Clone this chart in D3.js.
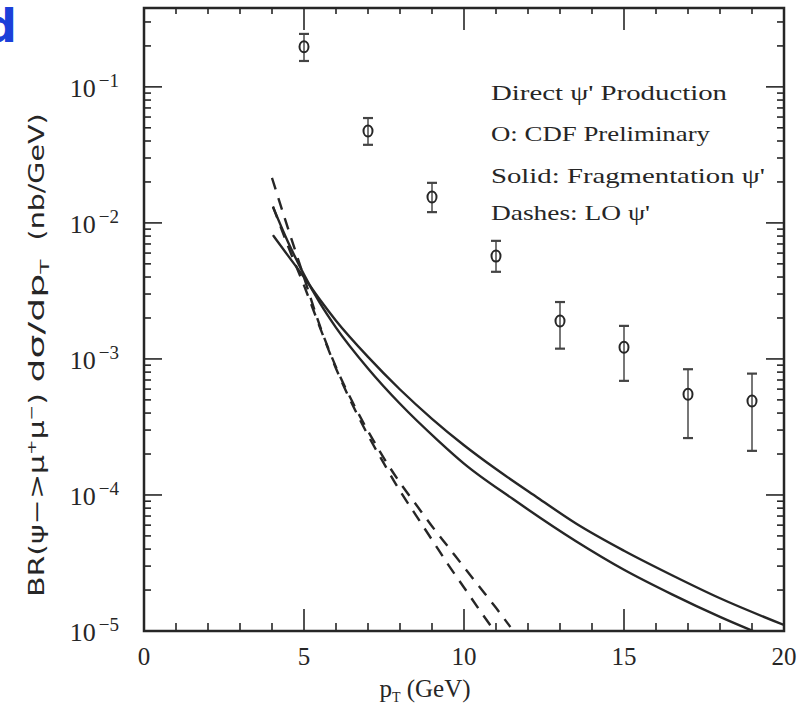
<!DOCTYPE html>
<html>
<head>
<meta charset="utf-8">
<script src="https://cdn.jsdelivr.net/npm/d3@7"></script>
<style>
  body { margin: 0; background: #fff; }
  svg { display: block; }
</style>
</head>
<body>
<div id="chart"></div>
<script>
// CDF points: pT, value, lower and upper end of error bar
var cdfPt = [5, 7, 9, 11, 13, 15, 17, 19];
var cdfVal = [0.197, 0.0474, 0.0155, 0.0057, 0.0019, 0.00122, 0.00055, 0.00049];
var cdfLo = [0.155, 0.0375, 0.0120, 0.00437, 0.00119, 0.00069, 0.000262, 0.000211];
var cdfHi = [0.245, 0.059, 0.0197, 0.00738, 0.00262, 0.00175, 0.00084, 0.00078];

// fragmentation (solid) curves
var frag1Pt = [4.03, 4.5, 5.0, 5.5, 6.0, 7.0, 8.0, 9.0, 10, 11, 12.3, 13.5, 15, 16.5, 18, 20];
var frag1Val = [0.00813, 0.00575, 0.00398, 0.00272, 0.00191, 0.001035, 0.000596, 0.000363, 0.000232,
                0.000155, 9.55e-5, 6.17e-5, 3.89e-5, 2.57e-5, 1.74e-5, 1.107e-5];
var frag2Pt = [4.03, 4.5, 5.0, 5.5, 6.0, 7.0, 8.0, 9.19, 10, 11.53, 13.5, 15, 16.5, 18, 19.5];
var frag2Val = [0.01312, 0.00724, 0.00417, 0.00257, 0.00170, 0.000851, 0.000468, 0.000251, 0.000170,
                9.33e-5, 4.57e-5, 2.82e-5, 1.86e-5, 1.27e-5, 9.0e-6];

// LO (dashed) curves
var lo1Pt = [4.0, 4.5, 5.0, 5.5, 6.0, 6.5, 7.0, 7.5, 8.0, 8.5, 9.0, 9.5, 10.0, 10.5, 11.0, 11.45];
var lo1Val = [0.0214, 0.00912, 0.00398, 0.00174, 0.000871, 0.000490, 0.000295, 0.000186, 0.000123,
              8.51e-5, 5.89e-5, 4.17e-5, 2.95e-5, 2.09e-5, 1.48e-5, 1.07e-5];
var lo2Pt = [4.03, 4.5, 5.0, 5.5, 6.0, 6.5, 7.0, 7.5, 8.0, 8.5, 9.0, 9.5, 10.0, 10.5, 10.95];
var lo2Val = [0.0132, 0.00676, 0.00347, 0.00170, 0.000851, 0.000468, 0.000275, 0.000170, 0.000107,
              7.08e-5, 4.68e-5, 3.09e-5, 2.09e-5, 1.41e-5, 1.0e-5];

var xMajor = [0, 5, 10, 15, 20];
var xMinor = [1, 2, 3, 4, 6, 7, 8, 9, 11, 12, 13, 14, 16, 17, 18, 19];
var yDecades = [1e-5, 1e-4, 1e-3, 1e-2, 1e-1];
var yExp = ["\u22125", "\u22124", "\u22123", "\u22122", "\u22121"];

var legendLines = ["Direct \u03c8' Production", "O: CDF Preliminary", "Solid: Fragmentation \u03c8'", "Dashes: LO \u03c8'"];
var legendWidths = [236, 219, 274, 159];

var W = 808, H = 712;
var plotL = 144, plotR = 784, plotT = 8, plotB = 631;

var svg = d3.select("#chart").append("svg")
    .attr("width", W)
    .attr("height", H);

var x = d3.scaleLinear().domain([0, 20]).range([plotL, plotR]);
var y = d3.scaleLog().domain([1e-5, 0.38]).range([plotB, plotT]);

// minor y ticks: 2..9 within each decade
var yMinor = [];
yDecades.forEach(function(d) {
    for (var k = 2; k <= 9; k++) {
        if (d * k < 0.38) yMinor.push(d * k);
    }
});

svg.append("defs").append("clipPath").attr("id", "plot")
    .append("rect")
    .attr("x", plotL).attr("y", plotT)
    .attr("width", plotR - plotL).attr("height", plotB - plotT);

var ink = "#262626";

// ticks, all pointing into the frame
var ticks = svg.append("g").attr("stroke", ink).attr("stroke-width", 1.6);
var yAll = yDecades.concat(yMinor);
var xAll = xMajor.concat(xMinor);

ticks.selectAll(".yl").data(yAll).enter().append("line")
    .attr("x1", plotL).attr("x2", function(d) { return yDecades.indexOf(d) >= 0 ? plotL + 18 : plotL + 7; })
    .attr("y1", function(d) { return y(d); }).attr("y2", function(d) { return y(d); });
ticks.selectAll(".yr").data(yAll).enter().append("line")
    .attr("x1", plotR).attr("x2", function(d) { return yDecades.indexOf(d) >= 0 ? plotR - 18 : plotR - 7; })
    .attr("y1", function(d) { return y(d); }).attr("y2", function(d) { return y(d); });

ticks.selectAll(".xb").data(xAll).enter().append("line")
    .attr("x1", function(d) { return x(d); }).attr("x2", function(d) { return x(d); })
    .attr("y1", plotB).attr("y2", function(d) { return xMajor.indexOf(d) >= 0 ? plotB - 22 : plotB - 8; });
ticks.selectAll(".xt").data(xAll).enter().append("line")
    .attr("x1", function(d) { return x(d); }).attr("x2", function(d) { return x(d); })
    .attr("y1", plotT).attr("y2", function(d) { return xMajor.indexOf(d) >= 0 ? plotT + 22 : plotT + 6; });

// frame
svg.append("rect")
    .attr("x", plotL).attr("y", plotT)
    .attr("width", plotR - plotL).attr("height", plotB - plotT)
    .attr("fill", "none").attr("stroke", ink).attr("stroke-width", 2.5);

// tick labels
svg.selectAll(".xlab").data(xMajor).enter().append("text")
    .attr("x", function(d) { return x(d); })
    .attr("y", 665)
    .attr("text-anchor", "middle")
    .attr("font-family", "Liberation Serif, serif")
    .attr("font-size", 25)
    .attr("fill", ink)
    .text(function(d) { return d; });

var ylab = svg.selectAll(".ylab").data(yDecades).enter().append("text")
    .attr("x", 119)
    .attr("y", function(d) { return y(d) + 10; })
    .attr("text-anchor", "end")
    .attr("font-family", "Liberation Serif, serif")
    .attr("fill", ink);
ylab.append("tspan").attr("font-size", 26).text("10");
ylab.append("tspan").attr("font-size", 19).attr("dx", 3).attr("dy", -10)
    .text(function(d, i) { return yExp[i]; });

// axis titles
var xt = svg.append("text")
    .attr("x", 425).attr("y", 697)
    .attr("text-anchor", "middle")
    .attr("font-family", "Liberation Serif, serif")
    .attr("font-size", 25)
    .attr("fill", ink);
xt.append("tspan").text("p");
xt.append("tspan").attr("font-size", 14).attr("dy", 5).text("T");
xt.append("tspan").attr("dy", -5).text(" (GeV)");

function yTitle(cy, len, build) {
    var t = svg.append("text")
        .attr("transform", "translate(44," + cy + ") rotate(-90)")
        .attr("text-anchor", "middle")
        .attr("font-family", "DejaVu Sans, sans-serif")
        .attr("font-size", 21)
        .attr("fill", ink)
        .attr("textLength", len)
        .attr("lengthAdjust", "spacingAndGlyphs");
    build(t);
}
yTitle(495, 204, function(t) {
    t.append("tspan").text("BR(\u03c8\u2212>\u03bc");
    t.append("tspan").attr("font-size", 13).attr("dy", -8).text("+");
    t.append("tspan").attr("dy", 8).text("\u03bc");
    t.append("tspan").attr("font-size", 13).attr("dy", -8).text("\u2212");
    t.append("tspan").attr("dy", 8).text(")");
});
yTitle(321, 123, function(t) {
    t.append("tspan").text("d\u03c3/dp");
    t.append("tspan").attr("font-size", 13).attr("dy", 5).text("T");
});
yTitle(177, 127, function(t) {
    t.text("(nb/GeV)");
});

// blue letter clipped at the corner, as in the source image
svg.append("text")
    .attr("x", -16).attr("y", 42)
    .attr("font-family", "DejaVu Sans, sans-serif")
    .attr("font-weight", "bold")
    .attr("font-size", 46)
    .attr("fill", "#1b3fd9")
    .text("d");

// curves
var line = d3.line()
    .x(function(d) { return x(d[0]); })
    .y(function(d) { return y(d[1]); })
    .curve(d3.curveMonotoneX);

var plot = svg.append("g").attr("clip-path", "url(#plot)");

[[frag1Pt, frag1Val], [frag2Pt, frag2Val]].forEach(function(c) {
    plot.append("path")
        .attr("d", line(d3.zip(c[0], c[1])))
        .attr("fill", "none").attr("stroke", ink).attr("stroke-width", 2.4);
});
[[lo1Pt, lo1Val], [lo2Pt, lo2Val]].forEach(function(c) {
    plot.append("path")
        .attr("d", line(d3.zip(c[0], c[1])))
        .attr("fill", "none").attr("stroke", ink).attr("stroke-width", 2.4)
        .attr("stroke-dasharray", "12,9");
});

// CDF points
var pts = svg.append("g").selectAll("g").data(cdfPt).enter().append("g");
pts.append("line")
    .attr("x1", function(d) { return x(d); }).attr("x2", function(d) { return x(d); })
    .attr("y1", function(d, i) { return y(cdfLo[i]); })
    .attr("y2", function(d, i) { return y(cdfHi[i]); })
    .attr("stroke", "#555").attr("stroke-width", 1.6);
pts.append("line")
    .attr("x1", function(d) { return x(d) - 5; }).attr("x2", function(d) { return x(d) + 5; })
    .attr("y1", function(d, i) { return y(cdfLo[i]); })
    .attr("y2", function(d, i) { return y(cdfLo[i]); })
    .attr("stroke", "#444").attr("stroke-width", 2.2);
pts.append("line")
    .attr("x1", function(d) { return x(d) - 5; }).attr("x2", function(d) { return x(d) + 5; })
    .attr("y1", function(d, i) { return y(cdfHi[i]); })
    .attr("y2", function(d, i) { return y(cdfHi[i]); })
    .attr("stroke", "#444").attr("stroke-width", 2.2);
pts.append("ellipse")
    .attr("cx", function(d) { return x(d); })
    .attr("cy", function(d, i) { return y(cdfVal[i]); })
    .attr("rx", 4.5).attr("ry", 5.5)
    .attr("fill", "none").attr("stroke", ink).attr("stroke-width", 2);

// legend text
svg.selectAll(".leg").data(legendLines).enter().append("text")
    .attr("x", 491)
    .attr("y", function(d, i) { return [100, 141, 183, 220][i]; })
    .attr("font-family", "Liberation Serif, serif")
    .attr("font-size", 22)
    .attr("fill", ink)
    .attr("textLength", function(d, i) { return legendWidths[i]; })
    .attr("lengthAdjust", "spacingAndGlyphs")
    .text(function(d) { return d; });
</script>
</body>
</html>
